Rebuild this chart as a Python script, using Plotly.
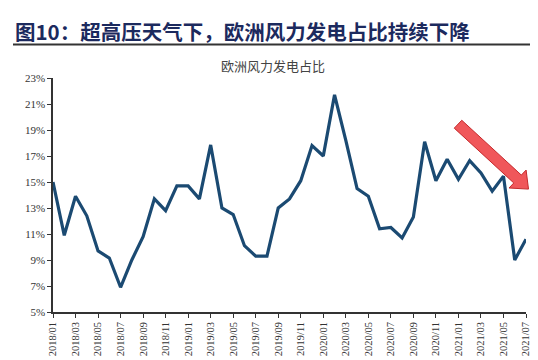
import numpy as np
import plotly.graph_objects as go

months = [f"{y}/{m:02d}" for y in (2018, 2019, 2020, 2021) for m in range(1, 13)][:43]
share = [15.0, 10.9, 13.9, 12.4, 9.7, 9.15, 6.9, 9.0, 10.8, 13.7, 12.8, 14.7,
         14.7, 13.7, 17.85, 13.0, 12.5, 10.1, 9.3, 9.3, 13.0, 13.7, 15.1, 17.8,
         17.0, 21.7, 18.2, 14.5, 13.9, 11.4, 11.5, 10.7, 12.3, 18.1, 15.1, 16.75,
         15.2, 16.65, 15.7, 14.3, 15.45, 9.0, 10.6]
y_ticks = list(range(5, 24, 2))
y_labels = [f"{v}%" for v in y_ticks]
x_idx = list(range(len(months)))
x_tick_idx = x_idx[::2]
x_tick_lab = months[::2]

W, H = 538, 360
L, R, T, B = 45, 20, 70, 52

fig = go.Figure()
fig.add_trace(go.Scatter(x=x_idx, y=share, mode="lines",
                         line=dict(color="#1b4a72", width=3.2), hoverinfo="skip"))

# arrow polygon (pixel space -> paper)
pw, ph = W - L - R, H - T - B
def to_paper(px, py):
    return ((px - L) / pw, 1 - (py - T) / ph)
tail = np.array([450.0, 117.0]); tip = np.array([520.5, 183.0])
d = (tip - tail) / np.linalg.norm(tip - tail)
n = np.array([-d[1], d[0]])
hl, bw, hw = 15.0, 5.5, 12.5
c = tip - d * hl
pts = [tail + n * bw, c + n * bw, c + n * hw, tip, c - n * hw, c - n * bw, tail - n * bw]
path = "M " + " L ".join(f"{to_paper(*p)[0]:.4f},{to_paper(*p)[1]:.4f}" for p in pts) + " Z"
fig.add_shape(type="path", path=path, xref="paper", yref="paper",
              fillcolor="#f0575a", line=dict(color="#c42a2c", width=1))

# title underline
fig.add_shape(type="line", xref="paper", yref="paper",
              x0=(5 - L) / pw, x1=(528 - L) / pw, y0=1 + (T - 36) / ph, y1=1 + (T - 36) / ph,
              line=dict(color="#333333", width=2))

fig.add_annotation(text="<b>图10：超高压天气下，欧洲风力发电占比持续下降</b>",
                   xref="paper", yref="paper", x=(5 - L) / pw, y=1 + (T - 22) / ph,
                   xanchor="left", yanchor="middle", showarrow=False,
                   font=dict(family="Noto Sans CJK SC", size=20.5, color="#1c2a5e"))
fig.add_annotation(text="欧洲风力发电占比", xref="paper", yref="paper",
                   x=(265 - L) / pw, y=1 + (T - 57) / ph, xanchor="center", yanchor="middle",
                   showarrow=False, font=dict(family="Noto Sans CJK SC", size=13, color="#444444"))

fig.update_layout(width=W, height=H, margin=dict(l=L, r=R, t=T, b=B),
                  paper_bgcolor="white", plot_bgcolor="white", showlegend=False)
fig.update_xaxes(range=[0, 42], tickvals=x_tick_idx, ticktext=x_tick_lab, tickangle=-90,
                 showgrid=False, zeroline=False, showline=True, linecolor="#333333", linewidth=1.5,
                 ticks="outside", ticklen=4, tickcolor="#333333",
                 tickfont=dict(family="Liberation Serif", size=10.5, color="#333333"))
fig.update_yaxes(range=[5, 23], tickvals=y_ticks, ticktext=y_labels,
                 showgrid=False, zeroline=False, showline=True, linecolor="#333333", linewidth=1.5,
                 ticks="outside", ticklen=4, tickcolor="#333333",
                 tickfont=dict(family="Liberation Serif", size=11, color="#333333"))

fig.write_html("out.html")
